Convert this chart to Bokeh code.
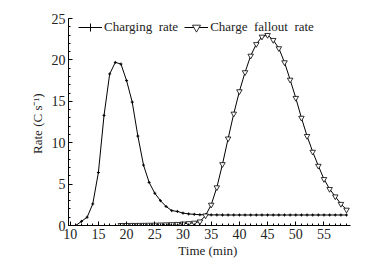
from bokeh.plotting import figure
from bokeh.embed import file_html
from bokeh.resources import INLINE
from bokeh.models import Range1d, Legend, LegendItem, SingleIntervalTicker

t_charge = [11, 12, 13, 14, 15, 16, 17, 18, 19, 20, 21, 22, 23, 24, 25, 26, 27, 28, 29, 30,
            31, 32, 33, 34, 35, 36, 37, 38, 39, 40, 41, 42, 43, 44, 45, 46, 47, 48, 49, 50,
            51, 52, 53, 54, 55, 56, 57, 58, 59]
charging_rate = [0.0, 0.5, 1.0, 2.6, 6.4, 13.3, 18.3, 19.7, 19.5, 17.5, 14.9, 10.8, 7.3, 5.2, 3.9,
                 3.0, 2.3, 1.8, 1.7, 1.5, 1.4, 1.35, 1.3, 1.3, 1.28, 1.28, 1.27, 1.27, 1.27, 1.27,
                 1.27, 1.27, 1.27, 1.27, 1.27, 1.27, 1.27, 1.27, 1.27, 1.27, 1.27, 1.27, 1.27,
                 1.27, 1.27, 1.27, 1.27, 1.27, 1.27]

t_fall = [19, 20, 21, 22, 23, 24, 25, 26, 27, 28, 29, 30, 31, 32, 33, 34, 35, 36, 37, 38,
          39, 40, 41, 42, 43, 44, 45, 46, 47, 48, 49, 50, 51, 52, 53, 54, 55, 56, 57, 58, 59]
fallout_rate = [0.05, 0.05, 0.06, 0.06, 0.07, 0.08, 0.09, 0.11, 0.13, 0.15, 0.18, 0.22, 0.27,
                0.33, 0.48, 1.2, 2.5, 4.6, 7.4, 10.5, 13.5, 16.2, 18.5, 20.5, 21.9, 22.8, 23.0,
                22.4, 21.4, 19.7, 17.6, 15.4, 13.0, 10.8, 8.9, 7.2, 5.6, 4.4, 3.5, 2.6, 1.9]

x_label = "Time  (min)"
y_label = "Rate  (C s\u207b\u00b9)"
series_names = ["Charging  rate", "Charge  fallout  rate"]

FONT = "Liberation Serif"

p = figure(width=375, height=273, output_backend="svg", toolbar_location=None,
           x_range=Range1d(9.7, 59.7), y_range=Range1d(0, 25),
           min_border_left=68, min_border_right=25, min_border_top=18, min_border_bottom=48)
p.outline_line_color = None
p.xgrid.visible = False
p.ygrid.visible = False
p.background_fill_color = "white"
p.border_fill_color = "white"

l1 = p.line(t_charge, charging_rate, line_color="black", line_width=1)
m1 = p.scatter(t_charge, charging_rate, marker="cross", size=3, line_color="black", line_width=1)
l2 = p.line(t_fall, fallout_rate, line_color="black", line_width=1)
m2 = p.scatter(t_fall, fallout_rate, marker="inverted_triangle", size=5.5,
               line_color="black", fill_color="white", line_width=0.8)

for ax, step in ((p.xaxis[0], 5), (p.yaxis[0], 5)):
    ax.ticker = SingleIntervalTicker(interval=step, num_minor_ticks=5)
    ax.major_tick_in = 4
    ax.major_tick_out = 0
    ax.minor_tick_in = 2
    ax.minor_tick_out = 0
    ax.axis_line_color = "black"
    ax.major_tick_line_color = "black"
    ax.minor_tick_line_color = "black"
    ax.major_label_text_font = FONT
    ax.major_label_text_font_size = "14px"
    ax.major_label_text_color = "#222222"
    ax.axis_label_text_font = FONT
    ax.axis_label_text_font_size = "13px"
    ax.axis_label_text_font_style = "normal"
    ax.axis_label_text_color = "#222222"

p.xaxis.axis_label = x_label
p.yaxis.axis_label = y_label
p.xaxis.major_label_standoff = 3
p.xaxis.axis_label_standoff = 1
p.yaxis.major_label_standoff = 3
p.yaxis.axis_label_standoff = 4

legend = Legend(items=[LegendItem(label=series_names[0], renderers=[l1, m1]),
                       LegendItem(label=series_names[1], renderers=[l2, m2])],
                orientation="horizontal", location=(10, 188))
legend.margin = 0
legend.padding = 2
legend.spacing = 6
legend.glyph_width = 24
legend.label_standoff = 2
legend.border_line_color = None
legend.background_fill_alpha = 0
legend.label_text_font = FONT
legend.label_text_font_size = "13px"
legend.label_text_color = "#222222"
p.add_layout(legend, "center")

open("out.html", "w").write(file_html(p, INLINE))
